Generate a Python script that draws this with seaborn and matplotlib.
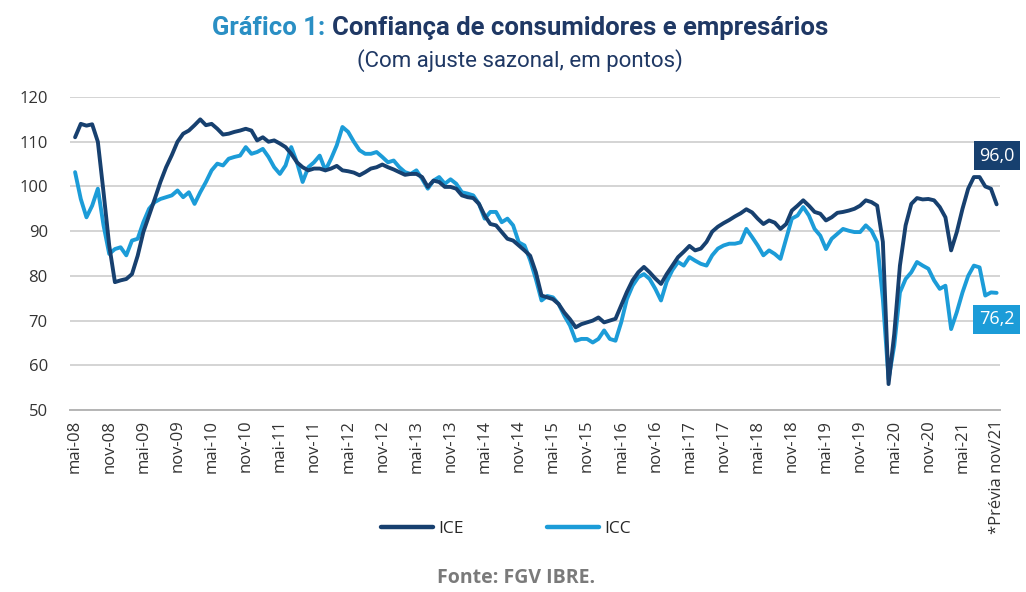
import numpy as np
import pandas as pd
import matplotlib
matplotlib.use("Agg")
import matplotlib.pyplot as plt
import seaborn as sns

# Monthly series, mai-08 .. nov-21 (points, seasonally adjusted)
ice = [111.0, 114.0, 113.6, 113.9, 110.0, 98.7, 86.8, 78.6, 79.0, 79.3, 80.4, 84.5,
       89.8, 93.5, 97.2, 101.0, 104.3, 107.0, 110.0, 111.8, 112.5, 113.7, 115.0, 113.7,
       114.0, 112.9, 111.6, 111.8, 112.2, 112.5, 112.9, 112.5, 110.3, 111.0, 110.0, 110.3,
       109.6, 108.8, 107.3, 105.4, 104.3, 103.6, 104.0, 104.0, 103.6, 104.0, 104.6, 103.6,
       103.4, 103.1, 102.5, 103.2, 104.0, 104.3, 104.9, 104.3, 103.8, 103.2, 102.6, 102.8,
       102.8, 102.1, 99.9, 101.3, 101.0, 99.9, 99.9, 99.5, 98.0, 97.6, 97.4, 96.1,
       93.5, 91.6, 91.3, 89.8, 88.3, 87.9, 86.8, 85.7, 84.5, 80.8, 75.6, 75.2,
       74.8, 73.7, 71.8, 70.3, 68.5, 69.2, 69.6, 70.0, 70.7, 69.6, 70.0, 70.4,
       73.4, 76.4, 79.0, 80.8, 82.0, 80.8, 79.4, 78.2, 80.4, 82.3, 84.2, 85.4,
       86.7, 85.7, 86.1, 87.6, 89.9, 91.0, 91.8, 92.5, 93.3, 94.0, 94.9, 94.2,
       92.8, 91.6, 92.4, 91.9, 90.5, 91.6, 94.6, 95.7, 96.9, 95.7, 94.3, 93.9,
       92.4, 93.1, 94.1, 94.3, 94.6, 95.0, 95.7, 96.9, 96.5, 95.7, 87.6, 55.8,
       67.0, 82.3, 91.3, 96.1, 97.4, 97.1, 97.2, 96.9, 95.4, 93.1, 85.7, 89.8,
       95.0, 99.5, 102.1, 102.1, 100.0, 99.5, 96.0]

icc = [103.2, 97.2, 93.1, 95.7, 99.5, 91.3, 84.9, 86.0, 86.4, 84.6, 87.9, 88.3,
       92.0, 95.0, 96.5, 97.2, 97.6, 98.0, 99.1, 97.6, 98.7, 96.1, 98.7, 101.0,
       103.6, 105.1, 104.7, 106.2, 106.6, 106.9, 108.8, 107.3, 107.7, 108.4, 106.6, 104.3,
       102.8, 104.7, 108.8, 105.4, 101.0, 104.3, 105.4, 106.9, 103.6, 106.2, 109.2, 113.3,
       112.2, 110.0, 108.1, 107.3, 107.3, 107.7, 106.6, 105.4, 105.8, 104.3, 103.2, 102.8,
       103.6, 101.7, 99.5, 101.3, 102.1, 100.6, 101.6, 100.6, 98.7, 98.4, 98.0, 96.1,
       92.8, 94.3, 94.3, 92.0, 92.8, 91.3, 87.5, 86.8, 83.5, 79.3, 74.5, 75.5,
       75.2, 73.7, 71.1, 68.9, 65.5, 65.9, 65.9, 65.1, 65.9, 67.8, 65.9, 65.5,
       69.6, 74.8, 77.8, 79.7, 80.4, 79.3, 77.1, 74.5, 78.7, 81.3, 83.1, 82.3,
       84.2, 83.4, 82.7, 82.3, 84.6, 86.1, 86.8, 87.2, 87.2, 87.5, 90.5, 88.7,
       86.8, 84.6, 85.7, 84.9, 83.8, 88.3, 92.8, 93.5, 95.4, 93.5, 90.5, 89.0,
       86.0, 88.3, 89.4, 90.5, 90.1, 89.8, 89.8, 91.3, 90.1, 87.5, 74.8, 56.9,
       64.4, 76.3, 79.3, 80.8, 83.1, 82.3, 81.6, 79.0, 77.1, 77.8, 68.1, 71.9,
       76.3, 80.0, 82.3, 81.9, 75.6, 76.3, 76.2]

months = pd.date_range("2008-05-01", periods=len(ice), freq="MS")
tick_labels = ["mai-08", "nov-08", "mai-09", "nov-09", "mai-10", "nov-10", "mai-11",
               "nov-11", "mai-12", "nov-12", "mai-13", "nov-13", "mai-14", "nov-14",
               "mai-15", "nov-15", "mai-16", "nov-16", "mai-17", "nov-17", "mai-18",
               "nov-18", "mai-19", "nov-19", "mai-20", "nov-20", "mai-21", "*Prévia nov/21"]

NAVY = "#17406f"
LIGHT = "#1c9cd8"

df = pd.DataFrame({"pos": np.arange(len(months)), "ICE": ice, "ICC": icc})
long = df.melt(id_vars="pos", var_name="serie", value_name="valor")

sns.set_style("white")
plt.rcParams["font.family"] = ["Open Sans", "DejaVu Sans"]

fig = plt.figure(figsize=(10.26, 5.92), dpi=100)
ax = fig.add_axes([0.0682, 0.3074, 0.9065, 0.5287])

sns.lineplot(data=long, x="pos", y="valor", hue="serie", palette={"ICE": NAVY, "ICC": LIGHT},
             linewidth=2.8, ax=ax, legend=False)
# ICE on top
ax.lines[0].set_zorder(3)

ax.set_xlim(-0.9, len(months) - 0.4)
ax.set_ylim(50, 120)
ax.set_yticks(range(50, 121, 10))
ax.set_xticks(np.arange(0, len(months), 6))
ax.set_xticklabels(tick_labels, rotation=90, fontsize=12, color="#333333")
ax.tick_params(axis="y", labelsize=12, colors="#333333", length=0, pad=16)
ax.tick_params(axis="x", length=0, pad=7)
ax.set_xlabel("")
ax.set_ylabel("")
ax.yaxis.grid(True, color="#d4d4d4", linewidth=1.4)
ax.set_axisbelow(True)
for side in ["top", "right", "left"]:
    ax.spines[side].set_visible(False)
ax.spines["bottom"].set_color("#b5b5b5")
ax.spines["bottom"].set_linewidth(1.4)

# end value labels
ax.annotate(f"{ice[-1]:.1f}".replace(".", ","), xy=(len(ice) - 1, ice[-1]), xytext=(0, 35),
            textcoords="offset points", ha="center", va="center", fontsize=13, color="white",
            bbox=dict(boxstyle="square,pad=0.3", fc=NAVY, ec="none"), annotation_clip=False)
ax.annotate(f"{icc[-1]:.1f}".replace(".", ","), xy=(len(icc) - 1, icc[-1]), xytext=(0, -19),
            textcoords="offset points", ha="center", va="center", fontsize=13, color="white",
            bbox=dict(boxstyle="square,pad=0.3", fc=LIGHT, ec="none"), annotation_clip=False)

# legend
handles = [plt.Line2D([], [], color=NAVY, lw=3.2), plt.Line2D([], [], color=LIGHT, lw=3.2)]
fig.legend(handles, ["ICE", "ICC"], loc="center", bbox_to_anchor=(0.493, 0.107), ncol=2,
           frameon=False, fontsize=12.5, handlelength=3.0, handletextpad=0.3, columnspacing=4.8)

# two-colour title
renderer = fig.canvas.get_renderer()
t1 = fig.text(0, 0.952, "Gráfico 1: ", fontsize=18.5, fontweight="bold", color="#2a8fc4",
              family="Roboto", va="center")
t2 = fig.text(0, 0.952, "Confiança de consumidores e empresários", fontsize=18.5,
              fontweight="bold", color="#1f3864", family="Roboto", va="center")
w1 = t1.get_window_extent(renderer).width
w2 = t2.get_window_extent(renderer).width
x0 = 520 - (w1 + w2) / 2
t1.set_x(x0 / fig.bbox.width)
t2.set_x((x0 + w1) / fig.bbox.width)

fig.text(0.507, 0.898, "(Com ajuste sazonal, em pontos)", ha="center", va="center",
         fontsize=16, color="#1f3864", family="Roboto")
fig.text(0.503, 0.023, "Fonte: FGV IBRE.", ha="center", va="center", fontsize=14,
         fontweight="bold", color="#7a7a7a")

fig.savefig("out.png", dpi=100, facecolor="white")
